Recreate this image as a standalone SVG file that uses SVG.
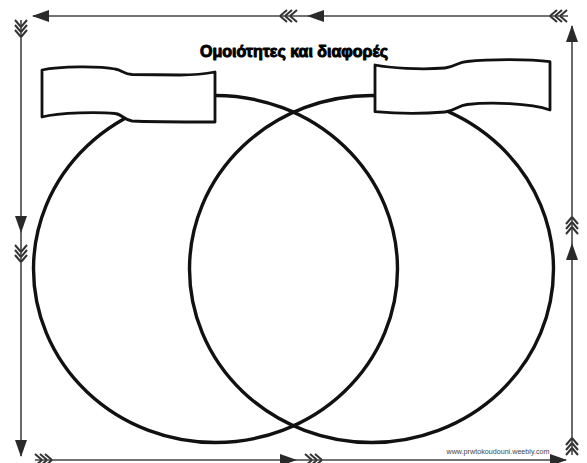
<svg xmlns="http://www.w3.org/2000/svg" xmlns:xlink="http://www.w3.org/1999/xlink" width="587" height="463" viewBox="0 0 587 463">
<style>
.circle{fill:none;stroke:#111;stroke-width:3.4}
.banner{fill:#fff;stroke:#111;stroke-width:2.8;stroke-linejoin:round}
.bline{stroke:#444;stroke-width:1.6;fill:none}
.head{fill:#2a2a2a}
.fletch{fill:none;stroke:#333;stroke-width:2}
.title{font-family:"Liberation Sans",Arial,sans-serif;font-weight:900;font-size:16.5px;fill:#000;stroke:#000;stroke-width:1;stroke-linejoin:round}
.mark{font-family:"Liberation Sans",Arial,sans-serif;font-size:7px;fill:#444}
</style>
<defs>
<polygon id="head" class="head" points="0,0 -17,-6 -17,6"/>
<path id="fletch" class="fletch" d="M0,0 L-7,-6 M0,0 L-7,6 M-5,0 L-12,-6 M-5,0 L-12,6 M-10,0 L-17,-6 M-10,0 L-17,6"/>
</defs>
<rect width="587" height="463" fill="#fff"/>
<g id="connectors">
<line class="bline" x1="33" y1="16" x2="568" y2="16"/>
<use xlink:href="#head" transform="translate(32,16) rotate(180)"/>
<use xlink:href="#fletch" transform="translate(280,16) rotate(180)"/>
<use xlink:href="#head" transform="translate(307,16) rotate(180)"/>
<use xlink:href="#fletch" transform="translate(550,16) rotate(180)"/>
<line class="bline" x1="21" y1="20" x2="21" y2="456"/>
<use xlink:href="#fletch" transform="translate(21,37) rotate(90)"/>
<use xlink:href="#head" transform="translate(21,233) rotate(90)"/>
<use xlink:href="#fletch" transform="translate(21,262) rotate(90)"/>
<use xlink:href="#head" transform="translate(21,457) rotate(90)"/>
<line class="bline" x1="35" y1="460" x2="566" y2="460"/>
<use xlink:href="#fletch" transform="translate(52,460)"/>
<use xlink:href="#head" transform="translate(297,460)"/>
<use xlink:href="#fletch" transform="translate(322,460)"/>
<use xlink:href="#head" transform="translate(567,460)"/>
<line class="bline" x1="572" y1="26" x2="572" y2="455"/>
<use xlink:href="#head" transform="translate(572,25) rotate(-90)"/>
<use xlink:href="#fletch" transform="translate(572,217) rotate(-90)"/>
<use xlink:href="#head" transform="translate(572,243) rotate(-90)"/>
<use xlink:href="#fletch" transform="translate(572,438) rotate(-90)"/>
</g>
<g id="circle-left"><ellipse class="circle" cx="215.5" cy="269" rx="182" ry="173.5"/></g>
<g id="circle-right"><ellipse class="circle" cx="371.5" cy="269" rx="182" ry="173.5"/></g>
<g id="banner-left"><path class="banner" d="M42,70 C60,66 100,66 115,69 C122,70 124,74 132,74.5 L180,75 C195,75 205,74 215,72 L215,122 C200,122 150,122 132,121 C124,120 122,114 115,113.5 C100,112 60,112 42,117 Z"/></g>
<g id="banner-right"><path class="banner" d="M375,65 C390,68 420,70 445,68 C455,67 458,62 467,61.5 C490,59 530,59 550,61.7 L550,110 C530,103 490,102 467,104.5 C458,105.5 455,111 445,112 C420,114 390,113 375,111.7 Z"/></g>
<g id="title"><text class="title" x="294" y="57" text-anchor="middle" textLength="188" lengthAdjust="spacingAndGlyphs">Ομοιότητες και διαφορές</text></g>
<g id="watermark"><text class="mark" x="498" y="454" text-anchor="middle" textLength="103" lengthAdjust="spacingAndGlyphs">www.prwtokoudouni.weebly.com</text></g>
</svg>
